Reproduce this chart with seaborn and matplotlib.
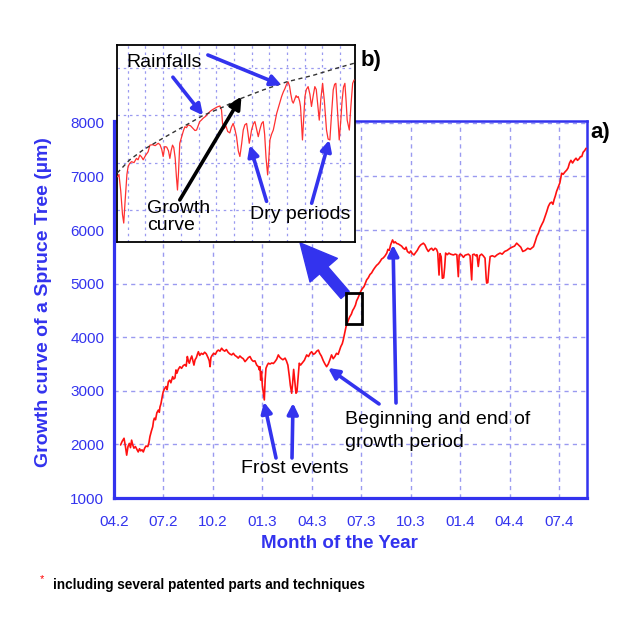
import matplotlib
matplotlib.use("Agg")
import matplotlib.pyplot as plt
from matplotlib.patches import Rectangle
import seaborn as sns

# main curve: months since 04.2 and stem growth (µm)
month = [0.40, 0.50, 0.61, 0.70, 0.77, 0.85, 0.93, 1.00, 1.07, 1.14, 1.21, 1.30, 1.40, 1.47, 1.55, 1.62, 1.70, 1.78, 1.86, 1.94,
         2.05, 2.12, 2.18, 2.27, 2.35, 2.40, 2.45, 2.52, 2.60, 2.69, 2.75, 2.79, 2.85, 2.89, 2.95, 2.99, 3.07, 3.16, 3.22, 3.30,
         3.38, 3.45, 3.56, 3.62, 3.70, 3.76, 3.82, 3.90, 4.00, 4.10, 4.20, 4.30, 4.38, 4.45, 4.51, 4.57, 4.65, 4.72, 4.80, 4.85,
         4.92, 5.00, 5.06, 5.12, 5.20, 5.30, 5.40, 5.50, 5.60, 5.72, 5.78, 5.83, 5.88, 5.95, 6.05, 6.15, 6.25, 6.33, 6.43, 6.53,
         6.62, 6.72, 6.82, 6.92, 7.02, 7.14, 7.24, 7.34, 7.44, 7.54, 7.64, 7.74, 7.84, 7.95, 8.05, 8.15, 8.25, 8.35, 8.45, 8.55,
         8.66, 8.76, 8.82, 8.86, 8.90, 8.95, 9.00, 9.06, 9.12, 9.17, 9.22, 9.30, 9.37, 9.47, 9.57, 9.67, 9.77, 9.87, 9.97, 10.05,
         10.15, 10.25, 10.38, 10.46, 10.55, 10.64, 10.70, 10.78, 10.84, 10.90, 10.96, 11.04, 11.10, 11.17, 11.24, 11.32, 11.42, 11.55, 11.69, 11.80,
         11.90, 11.99, 12.10, 12.20, 12.30, 12.40, 12.48, 12.58, 12.70, 12.80, 12.90, 13.00, 13.10, 13.20, 13.30, 13.40, 13.50, 13.60, 13.76, 13.85,
         13.91, 14.00, 14.08, 14.15, 14.22, 14.30, 14.40, 14.48, 14.56, 14.65, 14.72, 14.80, 14.88, 14.96, 15.05, 15.17, 15.25, 15.33, 15.43, 15.53,
         15.63, 15.73, 15.83, 15.93, 16.04, 16.14, 16.24, 16.34, 16.45, 16.55, 16.62, 16.70, 16.78, 16.90, 16.98, 17.06, 17.15, 17.25, 17.35, 17.45,
         17.55, 17.65, 17.72, 17.80, 17.92, 18.00, 18.10, 18.20, 18.30, 18.40, 18.50, 18.60, 18.70, 18.77, 18.87, 18.97, 19.07, 19.17, 19.27, 19.37,
         19.48, 19.57, 19.64, 19.72, 19.78, 19.85, 19.92, 20.00, 20.06, 20.12, 20.22, 20.32, 20.42, 20.52, 20.59, 20.70, 20.80, 20.89, 20.94, 21.00,
         21.09, 21.20, 21.30, 21.40, 21.50, 21.60, 21.70, 21.76, 21.85, 21.95, 22.02, 22.10, 22.18, 22.30, 22.40, 22.51, 22.58, 22.61, 22.68, 22.75,
         22.82, 22.95, 23.10, 23.25, 23.42, 23.55, 23.70, 23.85, 24.03, 24.15, 24.30, 24.43, 24.55, 24.68, 24.80, 24.95, 25.10, 25.25, 25.45, 25.55,
         25.65, 25.75, 25.85, 25.95, 26.05, 26.15, 26.25, 26.35, 26.45, 26.55, 26.63, 26.70, 26.78, 26.85, 26.95, 27.05, 27.16, 27.25, 27.35, 27.47,
         27.55, 27.63, 27.72, 27.82, 27.92, 28.03, 28.12, 28.22, 28.30, 28.38, 28.46, 28.55, 28.64]
growth = [1990, 2060, 2115, 1950, 1800, 1960, 2020, 1940, 2080, 1990, 1930, 1960, 1900, 1860, 1920, 1880, 1900, 1860, 1930, 1970,
          1960, 2030, 2145, 2250, 2330, 2440, 2490, 2460, 2590, 2640, 2600, 2700, 2760, 2830, 2930, 2985, 3040, 3080, 3020, 3170,
          3200, 3150, 3265, 3220, 3240, 3390, 3330, 3400, 3450, 3420, 3470, 3490, 3460, 3640, 3560, 3515, 3600, 3650, 3540, 3480,
          3580, 3620, 3680, 3730, 3660, 3700, 3680, 3720, 3690, 3610, 3560, 3450, 3620, 3660, 3700, 3680, 3740, 3760, 3740, 3795,
          3760, 3740, 3770, 3720, 3690, 3670, 3700, 3660, 3640, 3610, 3650, 3620, 3600, 3545, 3580, 3620, 3640, 3580, 3550, 3560,
          3480, 3450, 3390, 3450, 3200, 3360, 3100, 2960, 2830, 3200, 3420, 3480, 3515, 3500, 3520, 3510, 3545, 3590, 3670, 3630,
          3600, 3580, 3610, 3560, 3480, 3265, 3100, 2955, 3150, 3400, 3200, 2955, 2980, 3250, 3515, 3480, 3520, 3570, 3670, 3640,
          3700, 3730, 3680, 3700, 3740, 3760, 3700, 3650, 3560, 3500, 3450, 3500, 3580, 3670, 3600, 3640, 3700, 3680, 3825, 3880,
          3950, 4080, 4200, 4260, 4320, 4380, 4430, 4500, 4540, 4600, 4680, 4730, 4790, 4850, 4900, 4945, 5010, 5070, 5110, 5170,
          5200, 5255, 5300, 5340, 5370, 5410, 5460, 5480, 5520, 5570, 5640, 5620, 5720, 5815, 5760, 5780, 5750, 5740, 5720, 5700,
          5660, 5640, 5680, 5600, 5570, 5610, 5560, 5535, 5580, 5620, 5680, 5720, 5740, 5755, 5720, 5650, 5600, 5640, 5660, 5620,
          5660, 5640, 5580, 5160, 5560, 5500, 5100, 5110, 5300, 5570, 5540, 5570, 5550, 5540, 5535, 5550, 5540, 5130, 5530, 5550,
          5535, 5490, 5530, 5540, 5550, 5520, 5070, 5540, 5550, 5520, 5540, 5320, 5520, 5550, 5520, 5475, 5100, 5010, 5020, 5300,
          5505, 5520, 5500, 5540, 5570, 5550, 5600, 5620, 5660, 5680, 5700, 5755, 5720, 5680, 5600, 5620, 5660, 5640, 5690, 5780,
          5880, 5940, 6035, 6100, 6160, 6250, 6340, 6440, 6500, 6520, 6480, 6565, 6640, 6720, 6800, 6880, 7060, 7040, 7080, 7120,
          7160, 7245, 7300, 7250, 7300, 7340, 7300, 7330, 7370, 7370, 7450, 7480, 7525]

month_ticks = [0, 3, 6, 9, 12, 15, 18, 21, 24, 27]
month_labels = ["04.2", "07.2", "10.2", "01.3", "04.3", "07.3", "10.3", "01.4", "04.4", "07.4"]
growth_ticks = [1000, 2000, 3000, 4000, 5000, 6000, 7000, 8000]

# inset b): zoom of the small box, in grid units (no scale given)
zoom_x = [-0.58, -0.50, -0.40, -0.30, -0.23, -0.15, -0.05, 0.02, 0.10, 0.21, 0.35, 0.49, 0.58, 0.68, 0.78, 0.87, 1.00, 1.15, 1.25, 1.40,
          1.55, 1.72, 1.82, 1.92, 2.00, 2.05, 2.09, 2.20, 2.30, 2.38, 2.45, 2.53, 2.60, 2.68, 2.75, 2.81, 2.87, 2.94, 3.05, 3.15,
          3.23, 3.32, 3.41, 3.55, 3.70, 3.80, 3.89, 3.98, 4.07, 4.16, 4.26, 4.40, 4.52, 4.64, 4.78, 4.92, 5.06, 5.21, 5.30, 5.36,
          5.45, 5.55, 5.65, 5.77, 5.86, 5.96, 6.05, 6.15, 6.25, 6.34, 6.44, 6.53, 6.62, 6.72, 6.80, 6.87, 6.94, 7.00, 7.10, 7.19,
          7.28, 7.38, 7.47, 7.57, 7.66, 7.74, 7.82, 7.91, 7.98, 8.04, 8.13, 8.23, 8.32, 8.42, 8.56, 8.70, 8.80, 8.89, 8.98, 9.07,
          9.15, 9.22, 9.30, 9.36, 9.45, 9.52, 9.58, 9.64, 9.72, 9.77, 9.82, 9.88, 9.95, 10.02, 10.10, 10.20, 10.30, 10.39, 10.48, 10.58,
          10.66, 10.75, 10.83, 10.92, 11.02, 11.12, 11.24, 11.33, 11.43, 11.52, 11.62, 11.70, 11.77, 11.86, 11.96, 12.05, 12.12, 12.20, 12.28, 12.35,
          12.41, 12.53, 12.62, 12.72, 12.80]
zoom_y = [0.70, 0.75, 0.40, -0.10, -0.28, 0.20, 0.75, 0.92, 0.98, 1.02, 1.00, 1.09, 1.06, 1.16, 1.12, 1.06, 1.15, 1.23, 1.37, 1.38,
          1.36, 1.41, 1.38, 1.28, 1.13, 1.25, 1.34, 1.33, 1.25, 1.09, 1.25, 1.37, 1.32, 1.10, 0.70, 0.42, 0.80, 1.41, 1.55, 1.68,
          1.76, 1.74, 1.80, 1.78, 1.72, 1.68, 1.69, 1.78, 1.87, 1.90, 1.94, 1.98, 2.03, 2.08, 2.12, 2.15, 2.18, 2.20, 2.12, 1.83,
          1.72, 1.78, 1.66, 1.63, 1.75, 1.83, 1.72, 1.55, 1.25, 1.13, 1.40, 1.69, 1.80, 1.83, 1.62, 1.41, 1.55, 1.69, 1.82, 1.87,
          1.72, 1.55, 1.70, 1.83, 1.87, 1.60, 1.10, 0.74, 1.10, 1.48, 1.60, 1.69, 1.85, 2.04, 2.22, 2.40, 2.50, 2.57, 2.66, 2.71,
          2.62, 2.45, 2.30, 2.26, 2.35, 2.42, 2.38, 2.40, 2.30, 2.19, 1.85, 1.48, 1.95, 2.40, 2.55, 2.61, 2.45, 2.19, 2.40, 2.61,
          2.55, 2.20, 1.90, 2.35, 2.68, 2.30, 1.69, 1.50, 1.48, 2.00, 2.54, 2.66, 2.68, 2.10, 1.48, 1.90, 2.30, 2.60, 2.68, 2.30,
          1.90, 1.69, 2.20, 2.68, 2.75]
fit_x = [-0.60, 0.11, 0.87, 2.00, 3.13, 4.26, 5.40, 6.34, 7.66, 8.98, 10.49, 11.81, 12.85]
fit_y = [0.78, 1.06, 1.27, 1.52, 1.76, 2.00, 2.18, 2.35, 2.54, 2.71, 2.85, 3.00, 3.11]

BLUE = "#3333ee"
GRID = "#9a9af0"
RED = "#ff1010"

sns.set_style("white")
plt.rcParams["font.family"] = ["Liberation Sans", "DejaVu Sans"]
plt.rcParams["text.color"] = "black"

fig = plt.figure(figsize=(6.35, 6.35), dpi=100)
ax = fig.add_axes([0.1795, 0.2157, 0.745, 0.594])
ins = fig.add_axes([0.184, 0.619, 0.375, 0.310])

# ---- main chart a)
sns.lineplot(x=month, y=growth, ax=ax, color=RED, lw=1.2, zorder=3)
ax.set_xlim(0, 28.7)
ax.set_ylim(1000, 8037)
ax.set_xticks(month_ticks)
ax.set_xticklabels(month_labels)
ax.set_xticks(range(0, 29), minor=True)
ax.set_yticks(growth_ticks)
ax.set_yticks(range(1500, 8001, 1000), minor=True)
ax.grid(True, which="major", color=GRID, ls=(0, (3, 3)), lw=1.0)
ax.set_axisbelow(True)
ax.tick_params(which="major", direction="inout", length=8, width=1.8, color=BLUE,
               labelcolor=BLUE, labelsize=11)
ax.tick_params(which="minor", direction="inout", length=5, width=1.5, color=BLUE)
ax.tick_params(axis="x", which="major", pad=8)
ax.tick_params(axis="y", which="major", pad=3)
for side, spine in ax.spines.items():
    spine.set_visible(True)
    spine.set_color(BLUE)
    spine.set_linewidth(2.3 if side in ("left", "bottom") else 1.8)

ax.set_xlabel("Month of the Year", color=BLUE, fontsize=13.5, fontweight="bold")
ax.set_ylabel("Growth curve of a Spruce Tree (µm)", color=BLUE, fontsize=14, fontweight="bold")
ax.xaxis.set_label_coords(0.476, -0.098)
ax.yaxis.set_label_coords(-0.131, 0.52)

ax.add_patch(Rectangle((14.06, 4250), 0.97, 580, fill=False, ec="black", lw=2, zorder=4))

arrow = dict(arrowstyle="-|>", color=BLUE, lw=2.6, mutation_scale=16, shrinkA=0, shrinkB=0)
ax.text(10.98, 1560, "Frost events", fontsize=14, ha="center", va="center")
ax.annotate("", xy=(9.10, 2792), xytext=(9.83, 1747), arrowprops=arrow)
ax.annotate("", xy=(10.86, 2773), xytext=(10.80, 1747), arrowprops=arrow)
ax.text(14.02, 2251, "Beginning and end of\ngrowth period", fontsize=14, ha="left", va="center",
        linespacing=1.4)
ax.annotate("", xy=(12.99, 3427), xytext=(16.08, 2755), arrowprops=arrow)
ax.annotate("", xy=(16.93, 5723), xytext=(17.11, 2773), arrowprops=arrow)
ax.annotate("", xy=(11.29, 5760), xytext=(14.02, 4789),
            arrowprops=dict(arrowstyle="simple,head_width=1.0,head_length=1.0,tail_width=0.3",
                            color=BLUE, mutation_scale=26, shrinkA=0, shrinkB=0))

# ---- inset b)
ins.set_zorder(5)
ins.set_facecolor("white")
sns.lineplot(x=zoom_x, y=zoom_y, ax=ins, color="#ff3030", lw=0.9, zorder=3)
ins.plot(fit_x, fit_y, color="#333333", ls=(0, (3, 2.5)), lw=1.0, zorder=3)
ins.set_xlim(-0.62, 12.85)
ins.set_ylim(-0.68, 3.49)
ins.set_xticks(range(0, 13))
ins.set_yticks(range(0, 4))
ins.tick_params(length=0, labelbottom=False, labelleft=False)
ins.grid(True, color=GRID, ls=(0, (2, 3)), lw=0.9)
ins.set_axisbelow(True)
for spine in ins.spines.values():
    spine.set_visible(True)
    spine.set_color("black")
    spine.set_linewidth(1.3)

ins_blue = dict(arrowstyle="-|>", color=BLUE, lw=2.6, mutation_scale=16, shrinkA=0, shrinkB=0)
ins.text(-0.06, 3.13, "Rainfalls", fontsize=14, ha="left", va="center")
ins.annotate("", xy=(4.26, 2.0), xytext=(2.55, 2.81), arrowprops=ins_blue)
ins.annotate("", xy=(8.7, 2.64), xytext=(4.53, 3.28), arrowprops=ins_blue)
ins.text(1.08, -0.16, "Growth\ncurve", fontsize=14, ha="left", va="center", linespacing=1.0)
ins.annotate("", xy=(6.43, 2.40), xytext=(2.94, 0.21),
             arrowprops=dict(arrowstyle="-|>", color="black", lw=2.6, mutation_scale=18,
                             shrinkA=0, shrinkB=0))
ins.text(6.9, -0.1, "Dry periods", fontsize=14, ha="left", va="center")
ins.annotate("", xy=(6.9, 1.37), xytext=(7.85, 0.18), arrowprops=ins_blue)
ins.annotate("", xy=(11.4, 1.48), xytext=(10.4, 0.14), arrowprops=ins_blue)

# panel letters and footnote
fig.text(0.946, 0.791, "a)", fontsize=16, fontweight="bold", ha="center", va="center")
fig.text(0.584, 0.904, "b)", fontsize=16, fontweight="bold", ha="center", va="center")
fig.text(42 / 635, 1 - 579 / 635, "*", color="red", fontsize=8, ha="center", va="center")
fig.text(53 / 635, 1 - 585 / 635, "including several patented parts and techniques",
         fontsize=9.8, fontweight="bold", ha="left", va="center")

fig.savefig("out.png", dpi=100)
